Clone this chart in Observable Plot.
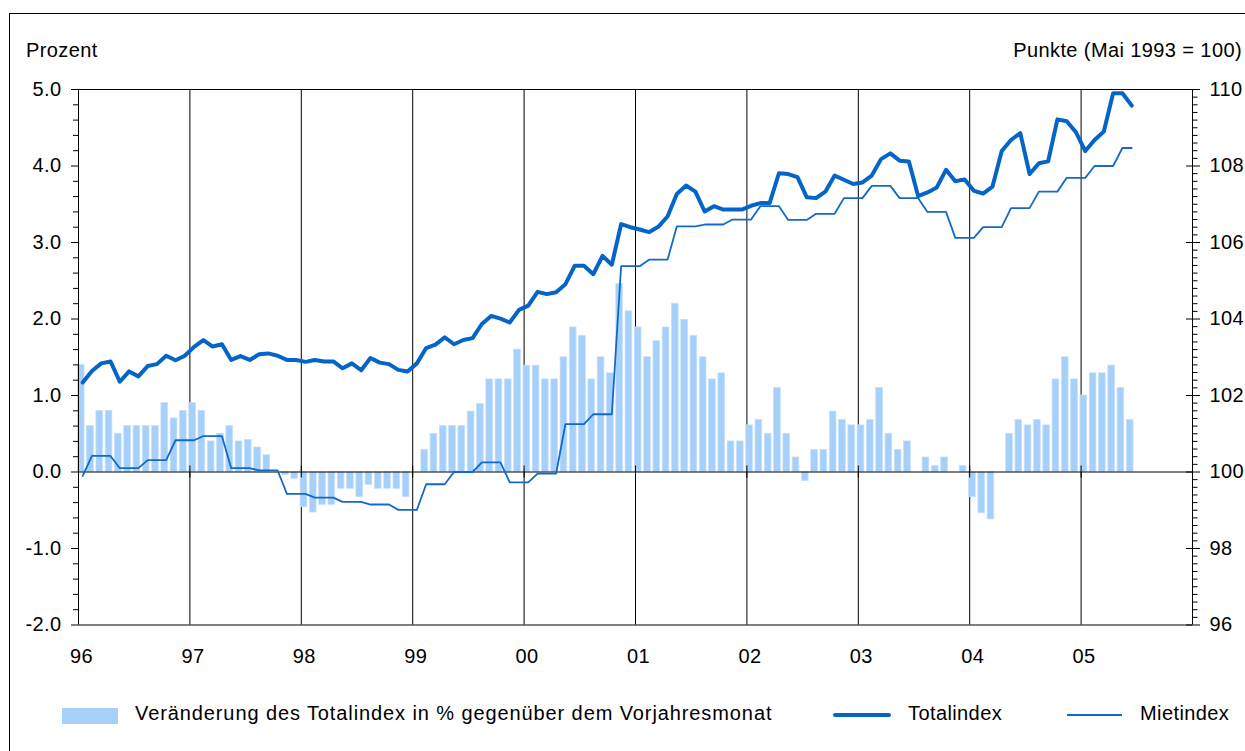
<!DOCTYPE html>
<html>
<head>
<meta charset="utf-8">
<script src="https://cdn.jsdelivr.net/npm/d3@7"></script>
<script src="https://cdn.jsdelivr.net/npm/@observablehq/plot@0.6"></script>
<style>
  body { margin: 0; background: #fff; }
  #wrap { position: relative; width: 1245px; height: 751px; overflow: hidden; background: #fff;
          font-family: "Liberation Sans", Arial, sans-serif; color: #000; }
  #frame { position: absolute; left: 9px; top: 13px; width: 1400px; height: 900px;
           border-left: 1px solid #000; border-top: 1px solid #000; z-index: 3; pointer-events: none; }
  .t { position: absolute; font-size: 20px; line-height: 20px; letter-spacing: 0.4px; white-space: nowrap; }
  #chart { position: absolute; left: 0; top: 70px; }
  .sw { position: absolute; }
</style>
</head>
<body>
<div id="wrap">
  <div id="frame"></div>
  <div class="t" style="left:26px; top:40px;">Prozent</div>
  <div class="t" style="right:3px; top:40px;">Punkte (Mai 1993 = 100)</div>
  <div id="chart"></div>
  <div class="sw" style="left:62px; top:708px; width:56px; height:16px; background:#a6d0fa;"></div>
  <div class="t" style="left:135px; top:703px; letter-spacing:0.9px;">Veränderung des Totalindex in % gegenüber dem Vorjahresmonat</div>
  <div class="sw" style="left:833px; top:713px; width:58px; height:4px; background:#0564c8; border-radius:2px;"></div>
  <div class="t" style="left:908px; top:703px;">Totalindex</div>
  <div class="sw" style="left:1067px; top:714px; width:55px; height:2px; background:#1169cc;"></div>
  <div class="t" style="left:1140px; top:703px;">Mietindex</div>
</div>
<script>
// ---- data (monthly, Jan 1996 – Jun 2005) ----
const yearLabels = ["96", "97", "98", "99", "00", "01", "02", "03", "04", "05"];
const leftTicks = [-2, -1, 0, 1, 2, 3, 4, 5];
const rightTicks = [96, 98, 100, 102, 104, 106, 108, 110];

// Veränderung des Totalindex in % gegenüber dem Vorjahresmonat
const changePct = [
  1.4, 0.6, 0.8, 0.8, 0.5, 0.6, 0.6, 0.6, 0.6, 0.9, 0.7, 0.8,
  0.9, 0.8, 0.4, 0.5, 0.6, 0.4, 0.42, 0.32, 0.22, 0.0, -0.04, -0.09,
  -0.46, -0.53, -0.43, -0.43, -0.22, -0.22, -0.33, -0.17, -0.22, -0.22, -0.22, -0.33,
  0.0, 0.29, 0.5, 0.6, 0.6, 0.6, 0.79, 0.89, 1.21, 1.21, 1.21, 1.6,
  1.39, 1.39, 1.21, 1.21, 1.5, 1.89, 1.78, 1.21, 1.5, 1.29, 2.46, 2.1,
  1.89, 1.5, 1.71, 1.89, 2.2, 1.99, 1.78, 1.5, 1.21, 1.29, 0.4, 0.4,
  0.61, 0.68, 0.5, 1.1, 0.5, 0.19, -0.12, 0.29, 0.29, 0.79, 0.68, 0.61,
  0.61, 0.68, 1.1, 0.5, 0.29, 0.4, 0.0, 0.19, 0.08, 0.19, 0.0, 0.08,
  -0.33, -0.54, -0.62, 0.0, 0.5, 0.68, 0.61, 0.68, 0.61, 1.21, 1.5, 1.21,
  1.0, 1.29, 1.29, 1.39, 1.1, 0.68
];

// Totalindex, Punkte (Mai 1993 = 100)
const totalIndex = [
  102.34, 102.64, 102.84, 102.89, 102.36, 102.63, 102.50, 102.77, 102.82, 103.04, 102.92, 103.04,
  103.27, 103.45, 103.28, 103.34, 102.93, 103.03, 102.93, 103.08, 103.10, 103.04, 102.93, 102.93,
  102.88, 102.93, 102.89, 102.89, 102.71, 102.84, 102.66, 102.98, 102.86, 102.82, 102.67, 102.63,
  102.84, 103.24, 103.33, 103.52, 103.34, 103.45, 103.50, 103.87, 104.08, 104.01, 103.91, 104.24,
  104.35, 104.71, 104.65, 104.70, 104.91, 105.39, 105.39, 105.17, 105.65, 105.42, 106.48, 106.40,
  106.34, 106.27, 106.41, 106.68, 107.27, 107.49, 107.33, 106.81, 106.95, 106.86, 106.86, 106.86,
  106.96, 107.03, 107.03, 107.81, 107.79, 107.71, 107.18, 107.16, 107.33, 107.75, 107.64, 107.53,
  107.57, 107.75, 108.18, 108.33, 108.14, 108.12, 107.21, 107.31, 107.44, 107.90, 107.60, 107.65,
  107.35, 107.28, 107.46, 108.39, 108.68, 108.86, 107.79, 108.07, 108.12, 109.22, 109.17, 108.88,
  108.39, 108.68, 108.90, 109.90, 109.90, 109.58
];

// Mietindex, Punkte (Mai 1993 = 100)
const mietIndex = [
  99.90, 100.42, 100.42, 100.42, 100.10, 100.10, 100.10, 100.31, 100.31, 100.31, 100.83, 100.83,
  100.83, 100.94, 100.94, 100.94, 100.10, 100.10, 100.10, 100.04, 100.04, 100.04, 99.43, 99.43,
  99.43, 99.33, 99.33, 99.33, 99.22, 99.22, 99.22, 99.15, 99.15, 99.15, 99.01, 99.01,
  99.01, 99.68, 99.68, 99.68, 100.00, 100.00, 100.00, 100.25, 100.25, 100.25, 99.73, 99.73,
  99.73, 99.96, 99.96, 99.96, 101.25, 101.25, 101.25, 101.51, 101.51, 101.51, 105.38, 105.38,
  105.38, 105.55, 105.55, 105.55, 106.42, 106.42, 106.42, 106.47, 106.47, 106.47, 106.60, 106.60,
  106.60, 106.95, 106.95, 106.95, 106.59, 106.59, 106.59, 106.75, 106.75, 106.75, 107.16, 107.16,
  107.16, 107.48, 107.48, 107.48, 107.16, 107.16, 107.16, 106.80, 106.80, 106.80, 106.12, 106.12,
  106.12, 106.40, 106.40, 106.40, 106.90, 106.90, 106.90, 107.33, 107.33, 107.33, 107.69, 107.69,
  107.69, 108.00, 108.00, 108.00, 108.47, 108.47
];

// ---- build ----
const rows = changePct.map((v, i) => ({i, chg: v, total: totalIndex[i], miet: mietIndex[i]}));
const toLeft = p => (p - 100) / 2;          // right axis (Punkte) -> left axis (Prozent)
const yearPos = yearLabels.map((_, k) => k * 12);
const leftMinor = d3.range(-10, 26).filter(k => k % 5 !== 0).map(k => k / 5);
const rightMinor = d3.range(-20, 51).filter(k => k % 10 !== 0).map(k => k / 10);

const BAR = "#a6d0fa", BAR_EDGE = "#c4e0fc", THICK = "#0564c8", THIN = "#1169cc";

const chart = Plot.plot({
  width: 1245,
  height: 610,
  marginLeft: 78,
  marginRight: 53,
  marginTop: 19,
  marginBottom: 55.5,
  x: {domain: [0, 120], axis: null},
  y: {domain: [-2, 5], axis: null},
  style: {fontFamily: "'Liberation Sans', Arial, sans-serif", fontSize: "20px", letterSpacing: "0.4px",
          background: "none", color: "#000", overflow: "visible"},
  marks: [
    Plot.ruleX(yearPos.slice(1), {stroke: "#000", strokeWidth: 1}),
    Plot.rectY(rows, {x1: d => d.i - 0.07, x2: d => d.i + 0.65, y1: 0, y2: "chg",
                      fill: BAR, stroke: BAR_EDGE, strokeWidth: 0.7}),
    Plot.ruleY([0, 5, -2], {stroke: "#000", strokeWidth: 1}),
    Plot.ruleX([0, 120], {stroke: "#000", strokeWidth: 1}),
    Plot.ruleX(yearPos.slice(1), {y1: 0, y2: 0, insetTop: 6, insetBottom: 6, stroke: "#000"}),
    Plot.line(rows, {x: d => d.i + 0.45, y: d => toLeft(d.miet), stroke: THIN, strokeWidth: 1.8,
                     strokeLinejoin: "round"}),
    Plot.line(rows, {x: d => d.i + 0.45, y: d => toLeft(d.total), stroke: THICK, strokeWidth: 4,
                     strokeLinejoin: "round", strokeLinecap: "round"}),
    // left axis
    Plot.axisY(leftMinor, {anchor: "left", label: null, tickSize: 5, tickFormat: () => "", stroke: "#000"}),
    Plot.axisY(leftTicks, {anchor: "left", label: null, tickSize: 7, tickPadding: 10, stroke: "#000",
                           tickFormat: d => d.toFixed(1), fill: "#000"}),
    // right axis
    Plot.axisY(rightMinor, {anchor: "right", label: null, tickSize: 4.5, tickFormat: () => "", stroke: "#000"}),
    Plot.axisY(rightTicks.map(toLeft), {anchor: "right", label: null, tickSize: 14, dx: -7, tickFormat: () => "", stroke: "#000"}),
    Plot.text(rightTicks, {x: 120, y: toLeft, text: d => String(d), textAnchor: "start", dx: 17, fill: "#000"}),
    // x labels
    Plot.text(yearLabels, {x: (d, k) => yearPos[k], y: -2, text: d => d, dx: 3, dy: 32, fill: "#000"})
  ]
});
document.getElementById("chart").appendChild(chart);
</script>
</body>
</html>
